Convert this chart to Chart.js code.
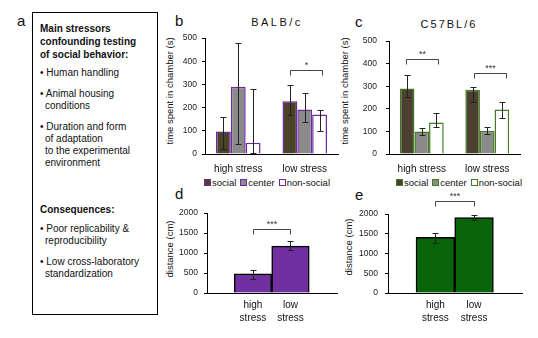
<!DOCTYPE html>
<html>
<head>
<meta charset="utf-8">
<script src="https://cdn.jsdelivr.net/npm/chart.js@4/dist/chart.umd.min.js"></script>
<style>
  body { margin: 0; width: 538px; height: 338px; position: relative; overflow: hidden; background: #fff;
         font-family: "Liberation Sans", Arial, sans-serif; color: #111; }
  .letter { position: absolute; font-size: 15px; line-height: 15px; }
  .title { position: absolute; font-size: 11px; transform: translateX(-50%); white-space: nowrap; }
  .ylab { position: absolute; font-size: 9.5px; white-space: nowrap; transform: translate(-50%, -50%) rotate(-90deg); }
  .legend { position: absolute; font-size: 9.5px; white-space: nowrap; display: flex; align-items: center; }
  .legend .sw { display: inline-block; width: 5px; height: 5px; border: 1.5px solid; margin-right: 1px; }
  .legend .item { display: flex; align-items: center; margin-right: 4px; }
  #box { position: absolute; left: 32px; top: 12px; width: 124px; height: 301px; border: 1.5px solid #000; }
  #box p { margin: 0; white-space: nowrap; font-size: 10px; line-height: 12px; padding-left: 7px; }
  #box p.b { font-weight: bold; }
  #box p.bl { padding-left: 12px; text-indent: -5px; }
  canvas { position: absolute; }
</style>
</head>
<body>

<div class="letter" style="left:17px;top:13px">a</div>
<div id="box">
  <p class="b" style="margin-top:9px;line-height:13px">Main stressors<br>confounding testing<br>of social behavior:</p>
  <p class="bl" style="margin-top:6px">• Human handling</p>
  <p class="bl" style="margin-top:9px">• Animal housing<br>conditions</p>
  <p class="bl" style="margin-top:9px">• Duration and form<br>of adaptation<br>to the experimental<br>environment</p>
  <p class="b" style="margin-top:35px">Consequences:</p>
  <p class="bl" style="margin-top:7px">• Poor replicability &amp;<br>reproducibility</p>
  <p class="bl" style="margin-top:9px">• Low cross-laboratory<br>standardization</p>
</div>

<div class="letter" style="left:175px;top:13px">b</div>
<div class="letter" style="left:355px;top:14px">c</div>
<div class="letter" style="left:175px;top:186px">d</div>
<div class="letter" style="left:355px;top:187px">e</div>

<div class="title" style="left:277px;top:16px;letter-spacing:2.5px">BALB/c</div>
<div class="title" style="left:449px;top:18px;letter-spacing:2px">C57BL/6</div>

<div class="ylab" style="left:169px;top:91px">time spent in chamber (s)</div>
<div class="ylab" style="left:344px;top:91px">time spent in chamber (s)</div>
<div class="ylab" style="left:169px;top:249px">distance (cm)</div>
<div class="ylab" style="left:348px;top:247px">distance (cm)</div>

<div class="legend" id="legB" style="left:204px;top:177px"></div>
<div class="legend" id="legC" style="left:396px;top:177px"></div>

<canvas id="chartB" width="169" height="150" style="left:173px;top:28px"></canvas>
<canvas id="chartC" width="167" height="151" style="left:357px;top:27px"></canvas>
<canvas id="chartD" width="166" height="131" style="left:175px;top:202px"></canvas>
<canvas id="chartE" width="170" height="145" style="left:356px;top:188px"></canvas>

<script>
// categories
const groups = ['high stress', 'low stress'];
const stressTicks = [['high', 'stress'], ['low', 'stress']];
const chambers = ['social', 'center', 'non-social'];

// b: BALB/c time spent in chamber (s)
const balbSocial = [97, 228];
const balbSocialLo = [20, 168];
const balbSocialHi = [160, 297];
const balbCenter = [290, 192];
const balbCenterLo = [45, 140];
const balbCenterHi = [478, 265];
const balbNonSocial = [48, 170];
const balbNonSocialLo = [5, 100];
const balbNonSocialHi = [282, 190];

// c: C57BL/6 time spent in chamber (s)
const c57Social = [290, 285];
const c57SocialLo = [252, 232];
const c57SocialHi = [350, 297];
const c57Center = [100, 103];
const c57CenterLo = [85, 88];
const c57CenterHi = [115, 118];
const c57NonSocial = [140, 197];
const c57NonSocialLo = [118, 158];
const c57NonSocialHi = [182, 232];

// d, e: distance (cm)
const balbDistance = [480, 1175];
const balbDistanceLo = [355, 1077];
const balbDistanceHi = [571, 1294];
const c57Distance = [1410, 1910];
const c57DistanceLo = [1260, 1850];
const c57DistanceHi = [1530, 1975];

// significance marks
const sigB = [{ from: 0.78, to: 1.26, y: 364, label: '*' }];
const sigC = [{ from: -0.24, to: 0.25, y: 420, label: '**' }, { from: 0.8, to: 1.29, y: 357, label: '***' }];
const sigD = [{ from: 0, to: 1, y: 1590, label: '***' }];
const sigE = [{ from: 0, to: 1, y: 2320, label: '***' }];

const socialFill = '#4a4229';
const socialFillC = '#4c4030';
const centerFill = '#8a8a8a';
const purple = '#6d2c9e';
const green = '#447a24';

Chart.defaults.font.family = '"Liberation Sans", Arial, sans-serif';
Chart.defaults.color = '#222';

// error bars drawn from errLo / errHi on each dataset
const errorBars = {
  id: 'errorBars',
  afterDatasetsDraw(chart) {
    const ctx = chart.ctx;
    const y = chart.scales.y;
    ctx.save();
    ctx.strokeStyle = '#222';
    ctx.lineWidth = 1;
    chart.data.datasets.forEach((ds, di) => {
      chart.getDatasetMeta(di).data.forEach((bar, i) => {
        const x = Math.round(bar.x) + 0.5;
        const top = Math.round(y.getPixelForValue(ds.errHi[i])) + 0.5;
        const bot = Math.round(y.getPixelForValue(ds.errLo[i])) + 0.5;
        ctx.beginPath();
        ctx.moveTo(x, top); ctx.lineTo(x, bot);
        ctx.moveTo(x - 3, top); ctx.lineTo(x + 3, top);
        ctx.moveTo(x - 3, bot); ctx.lineTo(x + 3, bot);
        ctx.stroke();
      });
    });
    ctx.restore();
  }
};

// significance brackets
const brackets = {
  id: 'brackets',
  afterDraw(chart, args, opts) {
    const { ctx, scales: { x, y } } = chart;
    ctx.save();
    ctx.strokeStyle = '#444';
    ctx.fillStyle = '#333';
    ctx.lineWidth = 1;
    ctx.font = '9px "Liberation Sans", Arial, sans-serif';
    ctx.textAlign = 'center';
    ctx.textBaseline = 'bottom';
    (opts.items || []).forEach(b => {
      const x1 = Math.round(x.getPixelForValue(b.from)) + 0.5;
      const x2 = Math.round(x.getPixelForValue(b.to)) + 0.5;
      const yy = Math.round(y.getPixelForValue(b.y)) + 0.5;
      ctx.beginPath();
      ctx.moveTo(x1, yy + 5); ctx.lineTo(x1, yy); ctx.lineTo(x2, yy); ctx.lineTo(x2, yy + 5);
      ctx.stroke();
      ctx.fillText(b.label, (x1 + x2) / 2, yy - 0.5);
    });
    ctx.restore();
  }
};

function yAxis(max, step, pad) {
  return {
    min: 0, max: max,
    ticks: { stepSize: step, font: { size: 8.5 }, padding: pad, color: '#222', callback: v => String(v) },
    grid: { display: true, drawOnChartArea: false, drawTicks: true, tickLength: 3, color: '#000' },
    border: { display: true, color: '#000', width: 1 },
    afterFit: s => { s.width = 32; }
  };
}

function chamberChart(id, sets, edge, socialColor, sig, pad) {
  const fills = [socialColor, centerFill, '#ffffff'];
  new Chart(document.getElementById(id), {
    type: 'bar',
    data: {
      labels: groups,
      datasets: sets.map((s, i) => ({
        label: chambers[i],
        data: s[0], errLo: s[1], errHi: s[2],
        backgroundColor: fills[i],
        borderColor: edge,
        borderWidth: 1.5,
        categoryPercentage: 0.67,
        barPercentage: 1.0
      }))
    },
    options: {
      responsive: false,
      animation: false,
      layout: { padding: { top: 8, right: 4, left: 0, bottom: 0 } },
      plugins: { legend: { display: false }, tooltip: { enabled: false }, brackets: { items: sig } },
      scales: {
        x: {
          grid: { display: false },
          border: { display: true, color: '#000', width: 1 },
          ticks: { font: { size: 10 }, padding: 1, color: '#111', maxRotation: 0, autoSkip: false },
          afterFit: s => { s.height = 24; }
        },
        y: yAxis(500, 100, pad)
      }
    },
    plugins: [errorBars, brackets]
  });
}

function distanceChart(id, vals, lo, hi, fill, sig, top, pad) {
  new Chart(document.getElementById(id), {
    type: 'bar',
    data: {
      datasets: [{
        label: 'distance',
        data: vals.map((v, i) => ({ x: i, y: v })),
        errLo: lo, errHi: hi,
        backgroundColor: fill,
        borderColor: '#000',
        borderWidth: 1.5,
        categoryPercentage: 1.0,
        barPercentage: 1.0
      }]
    },
    options: {
      responsive: false,
      animation: false,
      layout: { padding: { top: top, right: 4, left: 0, bottom: 0 } },
      plugins: { legend: { display: false }, tooltip: { enabled: false }, brackets: { items: sig } },
      scales: {
        x: {
          type: 'linear', min: -1.225, max: 2.24, offset: false,
          grid: { display: false },
          border: { display: true, color: '#000', width: 1 },
          afterBuildTicks: s => { s.ticks = stressTicks.map((_, i) => ({ value: i })); },
          ticks: { font: { size: 10, lineHeight: 1.3 }, padding: -2, color: '#111', maxRotation: 0, autoSkip: false,
                   callback: v => stressTicks[v] },
          afterFit: s => { s.height = 40; }
        },
        y: yAxis(2000, 500, pad)
      }
    },
    plugins: [errorBars, brackets]
  });
}

chamberChart('chartB', [
  [balbSocial, balbSocialLo, balbSocialHi],
  [balbCenter, balbCenterLo, balbCenterHi],
  [balbNonSocial, balbNonSocialLo, balbNonSocialHi]
], purple, socialFill, sigB, 5);

chamberChart('chartC', [
  [c57Social, c57SocialLo, c57SocialHi],
  [c57Center, c57CenterLo, c57CenterHi],
  [c57NonSocial, c57NonSocialLo, c57NonSocialHi]
], green, socialFillC, sigC, 9);

distanceChart('chartD', balbDistance, balbDistanceLo, balbDistanceHi, '#7030a0', sigD, 8, 6);
distanceChart('chartE', c57Distance, c57DistanceLo, c57DistanceHi, '#0a650a', sigE, 26, 7);

// legends under b and c
function legend(elId, edge, socialColor) {
  const fills = [socialColor, centerFill, '#ffffff'];
  document.getElementById(elId).innerHTML = chambers.map((c, i) =>
    `<span class="item"><span class="sw" style="background:${fills[i]};border-color:${edge}"></span>${c}</span>`
  ).join('');
}
legend('legB', purple, socialFill);
legend('legC', green, socialFillC);
</script>
</body>
</html>
